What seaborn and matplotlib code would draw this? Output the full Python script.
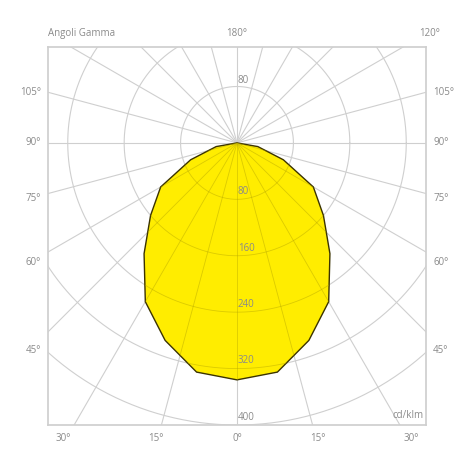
import numpy as np
import matplotlib.pyplot as plt
import seaborn as sns

# ==========================
# DATI
# ==========================

gamma_deg = [0, 10, 20, 30, 40, 50, 60, 70, 80, 90]
intensita = [336, 330, 298, 260, 205, 160, 125, 70, 30, 0]

cerchi = [80, 160, 240, 320, 400]
angoli_raggi = list(range(0, 360, 15))

etichette_lato = ['105°', '90°', '75°', '60°', '45°']
angoli_lato = [105, 90, 75, 60, 45]
etichette_basso = ['30°', '15°', '0°', '15°', '30°']
angoli_basso = [-30, -15, 0, 15, 30]

# ==========================
# CONFIGURAZIONE
# ==========================

sns.set_theme(style='white')
plt.rcParams['font.family'] = ['Open Sans', 'DejaVu Sans']

grigio = '#cfcfcf'
testo = '#8a8a8a'

xmin, xmax = -268, 268
ymin, ymax = -400, 136

fig = plt.figure(figsize=(4.74, 4.74), dpi=100)
ax = fig.add_axes([48 / 474, 1 - 425 / 474, 378 / 474, 378 / 474])
ax.set_xlim(xmin, xmax)
ax.set_ylim(ymin, ymax)
ax.set_aspect('equal', adjustable='box')

# griglia polare
t = np.linspace(0, 2 * np.pi, 400)
for r in cerchi:
    ax.plot(r * np.cos(t), r * np.sin(t), color=grigio, lw=0.8, zorder=1)
for a in angoli_raggi:
    rad = np.radians(a)
    ax.plot([0, 1000 * np.sin(rad)], [0, -1000 * np.cos(rad)],
            color=grigio, lw=0.8, zorder=1)

# curva fotometrica (simmetrica)
g = np.radians(np.array(gamma_deg))
i = np.array(intensita)
xs = np.concatenate([i * np.sin(g), (-i * np.sin(g))[::-1]])
ys = np.concatenate([-i * np.cos(g), (-i * np.cos(g))[::-1]])
ax.fill(xs, ys, facecolor='#ffed00', edgecolor='#3b3300', lw=1.0, zorder=2)

# griglia sopra il riempimento
for r in cerchi:
    ax.plot(r * np.cos(t), r * np.sin(t), color='#b8a800', lw=0.6,
            alpha=0.5, zorder=3, clip_path=ax.patches[0])
for a in angoli_raggi:
    rad = np.radians(a)
    ax.plot([0, 1000 * np.sin(rad)], [0, -1000 * np.cos(rad)],
            color='#b8a800', lw=0.6, alpha=0.5, zorder=3,
            clip_path=ax.patches[0])

# etichette dei cerchi
ax.text(1, 81, '80', color=testo, fontsize=7, ha='left', va='bottom')
for r in cerchi:
    ax.text(1, -r + 3, str(r), color=testo, fontsize=7,
            ha='left', va='bottom', zorder=4)

for sp in ax.spines.values():
    sp.set_color(grigio)
ax.set_xticks([])
ax.set_yticks([])

# etichette angoli
for lab, a in zip(etichette_lato, angoli_lato):
    y = -xmax / np.tan(np.radians(a)) if a != 90 else 0
    y = y - 0.1 * abs(y) if a < 90 else y
    ax.text(xmin - 10, y, lab, color=testo, fontsize=7, ha='right',
            va='center', clip_on=False)
    ax.text(xmax + 10, y, lab, color=testo, fontsize=7, ha='left',
            va='center', clip_on=False)

for lab, a in zip(etichette_basso, angoli_basso):
    x = 400 * np.tan(np.radians(a)) * 1.07
    ax.text(x, ymin - 12, lab, color=testo, fontsize=7, ha='center',
            va='top', clip_on=False)

ax.text(xmin, ymax + 12, 'Angoli Gamma', color=testo, fontsize=7,
        ha='left', va='bottom', clip_on=False)
ax.text(0, ymax + 12, '180°', color=testo, fontsize=7,
        ha='center', va='bottom', clip_on=False)
ax.text(xmax + 20, ymax + 12, '120°', color=testo, fontsize=7,
        ha='right', va='bottom', clip_on=False)
ax.text(xmax - 4, ymin + 6, 'cd/klm', color=testo, fontsize=7,
        ha='right', va='bottom')

fig.savefig('out.png', dpi=100, facecolor='white')
plt.close()
